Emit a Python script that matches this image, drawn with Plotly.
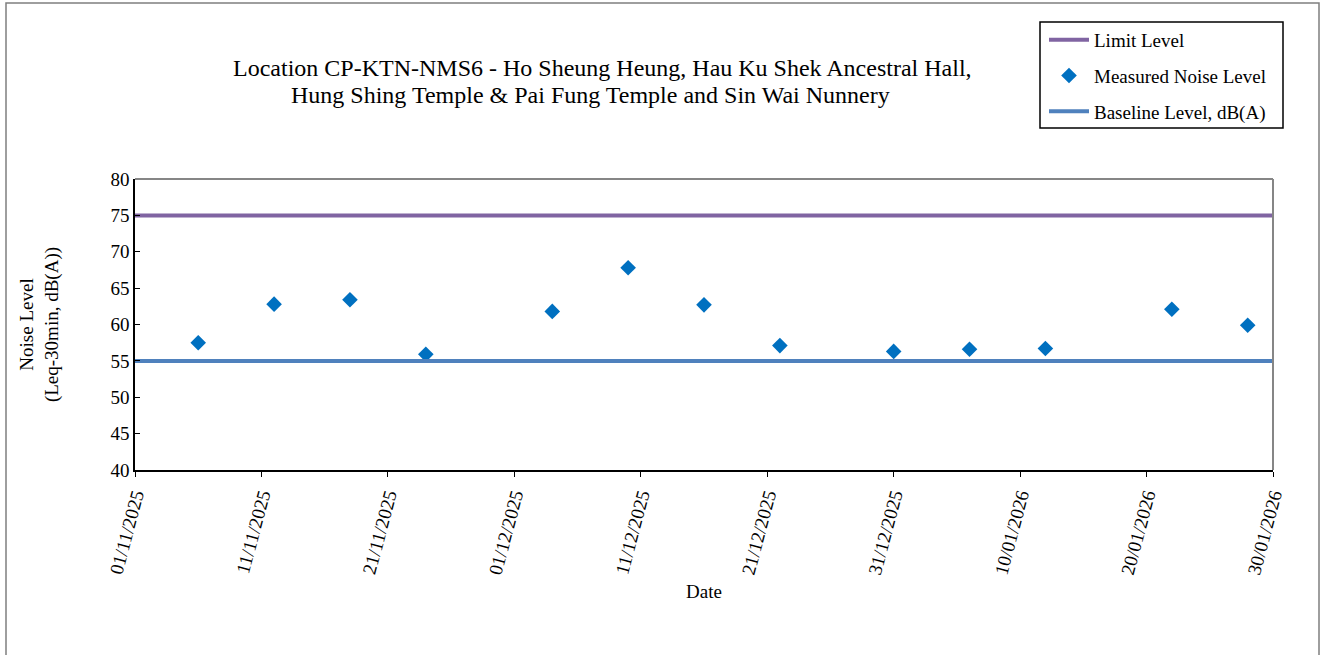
import plotly.graph_objects as go

dates = ["2025-11-06", "2025-11-12", "2025-11-18", "2025-11-24", "2025-12-04",
         "2025-12-10", "2025-12-16", "2025-12-22", "2025-12-31", "2026-01-06",
         "2026-01-12", "2026-01-22", "2026-01-28"]
measured = [57.5, 62.8, 63.4, 55.9, 61.8, 67.8, 62.7, 57.1, 56.3, 56.6, 56.7, 62.1, 59.9]
line_dates = ["2025-11-01", "2026-01-30"]
limit_level = [75, 75]
baseline_level = [55, 55]
title_lines = ["Location CP-KTN-NMS6 - Ho Sheung Heung, Hau Ku Shek Ancestral Hall,",
               "Hung Shing Temple &amp; Pai Fung Temple and Sin Wai Nunnery"]

FONT = "Liberation Serif, Times New Roman, serif"
W, H = 1325, 655
L, R, T, B = 135, 1273, 179, 470

fig = go.Figure()
fig.add_trace(go.Scatter(x=line_dates, y=limit_level, mode="lines", name="Limit Level",
                         legendgroup="a", line=dict(color="#8064A2", width=4)))
fig.add_trace(go.Scatter(x=dates, y=measured, mode="markers", name="Measured Noise Level",
                         legendgroup="b", marker=dict(symbol="diamond", size=12, color="#0070C0")))
fig.add_trace(go.Scatter(x=line_dates, y=baseline_level, mode="lines", name="Baseline Level, dB(A)",
                         legendgroup="c", line=dict(color="#4F81BD", width=4)))

pw, ph = R - L, B - T
def px(x):
    return (x - L) / pw
def py(y):
    return (B - y) / ph

annotations = [
    dict(text=title_lines[0], xref="paper", yref="paper", x=px(602), y=py(68),
         xanchor="center", yanchor="middle", showarrow=False,
         font=dict(family=FONT, size=24, color="black")),
    dict(text=title_lines[1], xref="paper", yref="paper", x=px(590), y=py(95),
         xanchor="center", yanchor="middle", showarrow=False,
         font=dict(family=FONT, size=24, color="black")),
]

fig.update_layout(
    width=W, height=H,
    margin=dict(l=L, r=W - R, t=T, b=H - B),
    paper_bgcolor="white", plot_bgcolor="white",
    font=dict(family=FONT, size=19, color="black"),
    showlegend=True,
    legend=dict(x=px(1044), y=py(21), xanchor="left", yanchor="top",
                borderwidth=0, bgcolor="rgba(0,0,0,0)",
                font=dict(family=FONT, size=19), itemwidth=40, tracegroupgap=8),
    xaxis=dict(type="date", range=["2025-11-01", "2026-01-30"],
               tick0="2025-11-01", dtick=10 * 86400000, tickformat="%d/%m/%Y",
               tickangle=-75, ticks="outside", ticklen=5, tickcolor="black",
               showline=True, linecolor="black", linewidth=1.5, mirror=False,
               showgrid=False, zeroline=False,
               tickfont=dict(family=FONT, size=19),
               title=dict(text="Date", font=dict(family=FONT, size=19), standoff=9)),
    yaxis=dict(range=[40, 80], dtick=5, ticks="inside", ticklen=5, tickcolor="black",
               showline=True, linecolor="black", linewidth=1.5,
               showgrid=False, zeroline=False,
               tickfont=dict(family=FONT, size=19),
               title=dict(text="Noise Level<br>(Leq-30min, dB(A))", font=dict(family=FONT, size=19), standoff=47)),
    annotations=annotations,
    shapes=[
        dict(type="line", xref="paper", yref="paper", x0=0, x1=1, y0=1, y1=1,
             line=dict(color="#868686", width=2)),
        dict(type="line", xref="paper", yref="paper", x0=1, x1=1, y0=0, y1=1,
             line=dict(color="#868686", width=2)),
        dict(type="rect", xref="paper", yref="paper", x0=px(6), x1=px(1319), y0=py(700), y1=py(3),
             line=dict(color="#7f7f7f", width=1.5), fillcolor="rgba(0,0,0,0)", layer="below"),
        dict(type="rect", xref="paper", yref="paper", x0=px(1040), x1=px(1283), y0=py(128), y1=py(22),
             line=dict(color="black", width=1.5), fillcolor="rgba(0,0,0,0)", layer="above"),
    ],
)

fig.write_html("out.html", config={"displayModeBar": False},
               post_script="document.body.style.margin='0';document.body.style.overflow='hidden';")
